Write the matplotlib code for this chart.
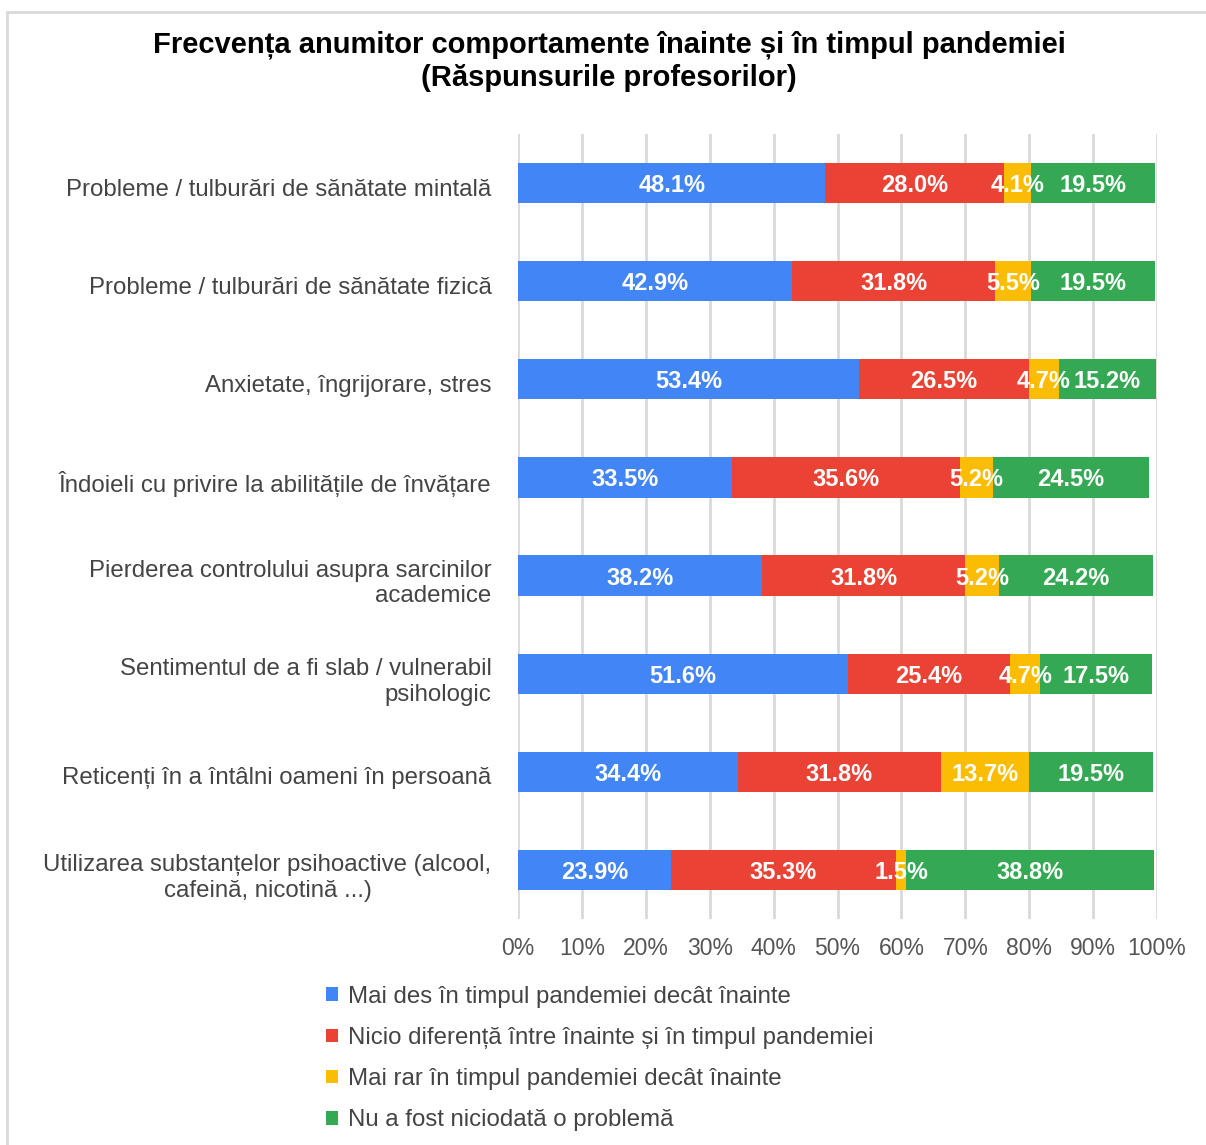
import matplotlib.pyplot as plt
import matplotlib.transforms as mtransforms
from matplotlib.patches import Rectangle

plt.rcParams["font.family"] = ["Liberation Sans", "DejaVu Sans"]

categories = [
    "Probleme / tulburări de sănătate mintală",
    "Probleme / tulburări de sănătate fizică",
    "Anxietate, îngrijorare, stres",
    "Îndoieli cu privire la abilitățile de învățare",
    "Pierderea controlului asupra sarcinilor\nacademice",
    "Sentimentul de a fi slab / vulnerabil\npsihologic",
    "Reticenți în a întâlni oameni în persoană",
    "Utilizarea substanțelor psihoactive (alcool,\ncafeină, nicotină ...)",
]
series_names = [
    "Mai des în timpul pandemiei decât înainte",
    "Nicio diferență între înainte și în timpul pandemiei",
    "Mai rar în timpul pandemiei decât înainte",
    "Nu a fost niciodată o problemă",
]
more_often = [48.1, 42.9, 53.4, 33.5, 38.2, 51.6, 34.4, 23.9]
no_difference = [28.0, 31.8, 26.5, 35.6, 31.8, 25.4, 31.8, 35.3]
less_often = [4.1, 5.5, 4.7, 5.2, 5.2, 4.7, 13.7, 1.5]
never_problem = [19.5, 19.5, 15.2, 24.5, 24.2, 17.5, 19.5, 38.8]
colors = ["#4285F4", "#EA4335", "#FBBC04", "#34A853"]

fig = plt.figure(figsize=(12.06, 11.45), dpi=100)
ax = fig.add_axes([0.4295, 0.1974, 0.5299, 0.6856])

ypos = list(range(len(categories)))
left = [0.0] * len(categories)
handles = []
for name, vals, col in zip(series_names,
                           [more_often, no_difference, less_often, never_problem],
                           colors):
    bars = ax.barh(ypos, vals, left=left, height=0.41, color=col,
                   label=name, zorder=3)
    handles.append(bars)
    for y, l, v in zip(ypos, left, vals):
        ax.text(l + v / 2, y, f"{v:.1f}%", ha="center", va="center_baseline",
                color="white", fontsize=17, fontweight="bold", zorder=4)
    left = [a + b for a, b in zip(left, vals)]

ax.set_xlim(0, 100)
ax.set_ylim(len(categories) - 0.5, -0.5)
ax.set_xticks(range(0, 101, 10))
ax.set_xticklabels([f"{t}%" for t in range(0, 101, 10)])
ax.set_yticks(ypos)
ax.set_yticklabels(categories)
ax.tick_params(axis="x", length=0, pad=13, labelsize=16.5, labelcolor="#555555")
ax.tick_params(axis="y", length=0, pad=19, labelsize=17.3, labelcolor="#444444")
# labels sit a few pixels below the bar centre in the original
shift = mtransforms.ScaledTranslation(0, -4 / 100, fig.dpi_scale_trans)
for i, lab in enumerate(ax.get_yticklabels()):
    lab.set_multialignment("center" if i == len(categories) - 1 else "right")
    lab.set_transform(lab.get_transform() + shift)
ax.grid(axis="x", color="#d9d9d9", linewidth=2, zorder=0)
for s in ax.spines.values():
    s.set_visible(False)

fig.text(0.505, 0.961, "Frecvența anumitor comportamente înainte și în timpul pandemiei",
         ha="center", va="center", fontsize=21, fontweight="bold")
fig.text(0.505, 0.932, "(Răspunsurile profesorilor)",
         ha="center", va="center", fontsize=21, fontweight="bold")

fig.legend(handles=handles, labels=series_names, loc="upper left",
           bbox_to_anchor=(0.252, 0.158), frameon=False, fontsize=17.3,
           labelcolor="#444444", handlelength=0.5, handleheight=0.5,
           handletextpad=0.45, labelspacing=0.8)

# light border like the screenshot frame
fig.patches.append(Rectangle((7 / 1206, -0.1), 1.2, 1.1 - 12 / 1145,
                             transform=fig.transFigure, fill=False,
                             edgecolor="#d9d9d9", linewidth=2))

fig.savefig("out.png", dpi=100, facecolor="white")
